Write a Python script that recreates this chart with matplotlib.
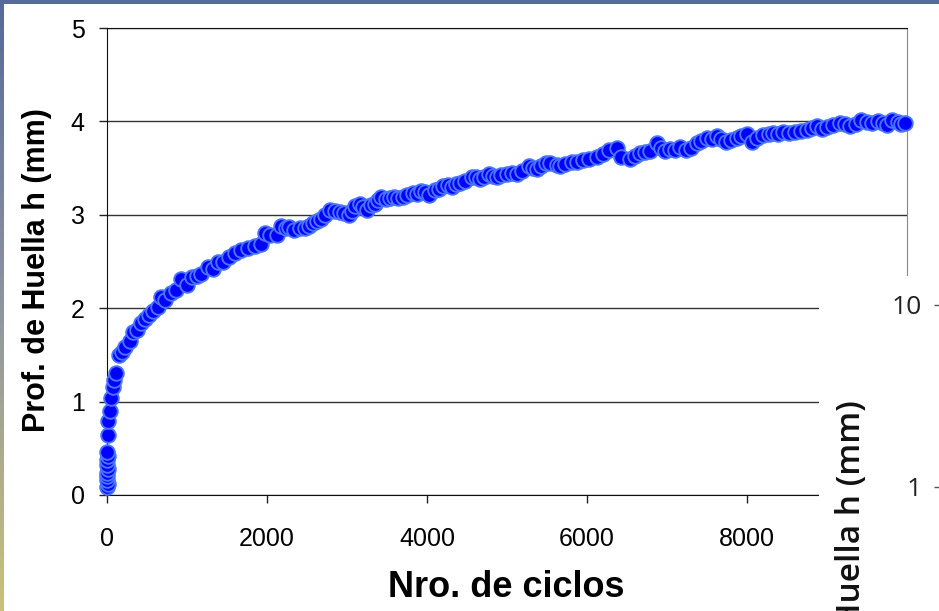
import matplotlib
matplotlib.use("Agg")
import matplotlib.pyplot as plt
import numpy as np
from matplotlib.patches import Rectangle
from matplotlib.colors import LinearSegmentedColormap
from matplotlib.ticker import NullLocator

# Nro. de ciclos vs profundidad de huella (mm)
ciclos = [0, 10, 0, 5, 0, 10, 5, 0, 10, 0,
          15, 8, 40, 50, 80, 92, 110, 150, 190, 230,
          290, 330, 380, 430, 480, 530, 580, 640, 680, 730,
          800, 860, 920, 1000, 1060, 1120, 1180, 1260, 1330, 1390,
          1450, 1520, 1600, 1680, 1760, 1850, 1930, 1970, 2040, 2120,
          2180, 2240, 2270, 2340, 2410, 2470, 2520, 2580, 2630, 2680,
          2730, 2790, 2850, 2910, 2960, 3020, 3060, 3100, 3160, 3200,
          3250, 3300, 3350, 3390, 3430, 3490, 3540, 3590, 3640, 3700,
          3750, 3830, 3880, 3930, 3980, 4020, 4100, 4150, 4200, 4260,
          4310, 4360, 4410, 4480, 4560, 4610, 4660, 4710, 4770, 4820,
          4870, 4930, 5000, 5060, 5120, 5190, 5270, 5320, 5370, 5430,
          5490, 5540, 5620, 5660, 5730, 5810, 5880, 5950, 6030, 6120,
          6200, 6270, 6370, 6430, 6540, 6600, 6660, 6720, 6790, 6870,
          6930, 6980, 7040, 7100, 7160, 7240, 7300, 7370, 7430, 7500,
          7560, 7620, 7680, 7740, 7800, 7870, 7930, 8000, 8060, 8130,
          8200, 8270, 8330, 8390, 8450, 8520, 8600, 8670, 8750, 8810,
          8870, 8940, 9000, 9080, 9160, 9220, 9290, 9360, 9430, 9500,
          9560, 9640, 9700, 9750, 9810, 9890, 9930, 9980]
huella = [0.09, 0.12, 0.16, 0.20, 0.24, 0.28, 0.32, 0.37, 0.42, 0.46,
          0.64, 0.79, 0.90, 1.04, 1.16, 1.23, 1.31, 1.50, 1.53, 1.58,
          1.65, 1.75, 1.77, 1.84, 1.88, 1.93, 1.97, 2.01, 2.12, 2.09,
          2.16, 2.20, 2.31, 2.25, 2.33, 2.34, 2.37, 2.44, 2.42, 2.50,
          2.50, 2.55, 2.59, 2.62, 2.64, 2.67, 2.69, 2.80, 2.78, 2.78,
          2.88, 2.86, 2.87, 2.84, 2.86, 2.86, 2.88, 2.91, 2.93, 2.96,
          3.00, 3.05, 3.04, 3.03, 3.02, 3.00, 3.04, 3.09, 3.12, 3.08,
          3.05, 3.10, 3.12, 3.16, 3.19, 3.17, 3.18, 3.19, 3.18, 3.19,
          3.21, 3.23, 3.22, 3.25, 3.24, 3.21, 3.27, 3.28, 3.31, 3.32,
          3.30, 3.33, 3.34, 3.36, 3.41, 3.40, 3.38, 3.41, 3.44, 3.42,
          3.40, 3.43, 3.44, 3.45, 3.44, 3.47, 3.52, 3.50, 3.49, 3.52,
          3.55, 3.55, 3.53, 3.52, 3.54, 3.56, 3.57, 3.59, 3.60, 3.62,
          3.65, 3.69, 3.71, 3.62, 3.60, 3.63, 3.66, 3.67, 3.68, 3.77,
          3.72, 3.68, 3.70, 3.69, 3.73, 3.69, 3.72, 3.77, 3.79, 3.82,
          3.81, 3.84, 3.81, 3.78, 3.80, 3.82, 3.84, 3.87, 3.78, 3.82,
          3.85, 3.86, 3.88, 3.87, 3.89, 3.88, 3.89, 3.90, 3.91, 3.93,
          3.95, 3.92, 3.94, 3.96, 3.98, 3.97, 3.95, 3.97, 4.01, 3.99,
          3.98, 4.00, 3.98, 3.96, 4.01, 3.99, 3.97, 3.98]

x_ticks = [0, 2000, 4000, 6000, 8000]
y_ticks = [0, 1, 2, 3, 4, 5]
log_ticks = [1, 10]

W, H = 939, 611
tick_font = ['Liberation Sans', 'DejaVu Sans']
bold_font = ['Liberation Sans', 'DejaVu Sans']

fig = plt.figure(figsize=(W / 100, H / 100), dpi=100)
fig.patch.set_facecolor('white')

# slide frame: blue strip on top, gradient strip on the left
bg = fig.add_axes([0, 0, 1, 1], zorder=-5)
bg.set_xlim(0, W)
bg.set_ylim(H, 0)
bg.axis('off')
slide = LinearSegmentedColormap.from_list('slide', ['#56699b', '#8e95a0', '#c9c27a'])
bg.imshow(np.linspace(0, 1, 256).reshape(-1, 1), extent=[0, 4, H, 0], cmap=slide, aspect='auto')
bg.add_patch(Rectangle((0, 0), W, 4, color='#566a9b', lw=0))

# main chart
ax = fig.add_axes([107 / W, (H - 495) / H, 800 / W, 467 / H])
ax.plot(ciclos, huella, 'o', ms=10.5, mfc='#0000ff', mec='#4a74ff', mew=1.4,
        clip_on=False, zorder=3)
ax.set_xlim(0, 10000)
ax.set_ylim(0, 5)
ax.set_xticks(x_ticks)
ax.set_yticks(y_ticks)
ax.yaxis.grid(True, color='#333333', lw=1)
ax.set_axisbelow(True)
for s in ['left', 'bottom', 'top']:
    ax.spines[s].set_color('#111111')
ax.spines['right'].set_color('#888888')
ax.tick_params(direction='out', length=6, width=1, color='#222222')
ax.tick_params(axis='x', pad=17)
ax.tick_params(axis='y', pad=10)
for lab in ax.get_xticklabels() + ax.get_yticklabels():
    lab.set_fontfamily(tick_font)
    lab.set_fontsize(18)

fig.text(506 / W, (H - 597) / H, 'Nro. de ciclos', ha='center', va='baseline',
         fontsize=26, fontweight='bold', family=bold_font)
fig.text(37.5 / W, 1 - 270 / H, 'Prof. de Huella h (mm)', rotation=90,
         ha='center', va='center', fontsize=22, fontweight='bold', family=bold_font)

# second (log) chart peeking in at the lower right
ax2 = fig.add_axes([819 / W, 0, (1100 - 819) / W, (H - 276) / H])
ax2.set_facecolor('white')
ax2.set_yscale('log')
ax2.set_ylim(0.208, 14.4)
ax2.set_xlim(0, 1)
ax2.set_xticks([])
ax2.yaxis.set_minor_locator(NullLocator())
ax2.set_yticks(log_ticks)
ax2.set_yticklabels([str(t) for t in log_ticks])
for s in ['top', 'right', 'bottom']:
    ax2.spines[s].set_visible(False)
ax2.spines['left'].set_position(('axes', (940 - 819) / 281))
ax2.tick_params(axis='y', length=4, width=1, color='#555555', pad=9,
                labelsize=19, labelcolor='#222222')
for lab in ax2.get_yticklabels():
    lab.set_fontfamily(['Open Sans', 'DejaVu Sans'])

fig.text(851 / W, 1 - 400 / H, 'Prof. de Huella h (mm)', rotation=90,
         ha='center', va='top', fontsize=24, fontweight='semibold',
         family=['Open Sans', 'DejaVu Sans'], color='#111111')

fig.savefig('out.png', dpi=100)
